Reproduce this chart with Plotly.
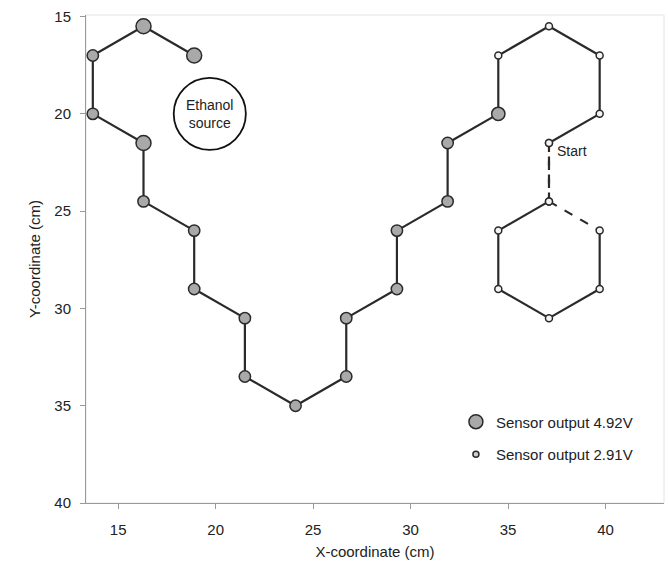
import plotly.graph_objects as go

# Robot trajectory (cm), in visiting order
path_x = [37.1, 37.1, 39.7, 39.7, 37.1, 34.5, 34.5, 37.1, 37.1, 39.7, 39.7, 37.1, 34.5, 34.5,
          31.9, 31.9, 29.3, 29.3, 26.7, 26.7, 24.1, 21.5, 21.5, 18.9, 18.9, 16.3, 16.3, 13.7,
          13.7, 16.3, 18.9]
path_y = [21.5, 24.5, 26.0, 29.0, 30.5, 29.0, 26.0, 24.5, 21.5, 20.0, 17.0, 15.5, 17.0, 20.0,
          21.5, 24.5, 26.0, 29.0, 30.5, 33.5, 35.0, 33.5, 30.5, 29.0, 26.0, 24.5, 21.5, 20.0,
          17.0, 15.5, 17.0]
# Sensor output (V) at each visited point
sensor_v = [2.91, 2.91, 2.91, 2.91, 2.91, 2.91, 2.91, 2.91, 2.91, 2.91, 2.91, 2.91, 2.91, 4.5,
            4.0, 4.0, 4.0, 4.0, 4.0, 4.0, 4.0, 4.0, 4.0, 4.0, 4.0, 4.0, 4.92, 4.0,
            4.0, 4.92, 4.92]
# segment style (from point i to i+1): True = dashed
seg_dashed = [True, True, False, False, False, False, False, True] + [False] * 22

legend_v = [4.92, 2.91]
legend_labels = ["Sensor output 4.92V", "Sensor output 2.91V"]

source_x, source_y, source_r = 19.7, 20.0, 1.85
source_label = "Ethanol<br>source"
start_label = "Start"

x_ticks = [15, 20, 25, 30, 35, 40]
y_ticks = [15, 20, 25, 30, 35, 40]

LINE = "#2a2a2a"
FONT = "Liberation Sans, Arial, sans-serif"


def msize(v):
    return 7 + (v - 2.91) / (4.92 - 2.91) * 8


def mfill(v):
    return "#a9a9a9" if v > 3.2 else "#f4f4f4"


fig = go.Figure()

# draw segments one by one with their style
for i in range(len(path_x) - 1):
    fig.add_trace(go.Scatter(
        x=[path_x[i], path_x[i + 1]], y=[path_y[i], path_y[i + 1]],
        mode="lines", showlegend=False, hoverinfo="skip",
        line=dict(color=LINE, width=2.2, dash="dash" if seg_dashed[i] else "solid"),
    ))

fig.add_trace(go.Scatter(
    x=path_x, y=path_y, mode="markers", showlegend=False,
    marker=dict(size=[msize(v) for v in sensor_v], color=[mfill(v) for v in sensor_v],
                line=dict(color=LINE, width=1.5), opacity=1),
))

for v, lab in zip(legend_v, legend_labels):
    fig.add_trace(go.Scatter(
        x=[None], y=[None], mode="markers", name=lab, legendgroup=lab,
        marker=dict(size=msize(v) - 1, color=mfill(v) if v > 4 else "#cfcfcf",
                    line=dict(color=LINE, width=1.5)),
    ))

fig.add_shape(type="circle", xref="x", yref="y",
              x0=source_x - source_r, x1=source_x + source_r,
              y0=source_y - source_r, y1=source_y + source_r,
              line=dict(color="#111", width=1.8), fillcolor="white", layer="below")
fig.add_annotation(x=source_x, y=source_y, text=source_label, showarrow=False,
                   font=dict(family=FONT, size=14, color="#222"))
fig.add_annotation(x=path_x[0], y=path_y[0], text=start_label, showarrow=False,
                   xanchor="left", yanchor="middle", xshift=6, yshift=-8,
                   font=dict(family=FONT, size=14, color="#222"))

# faint frame
fig.add_shape(type="rect", xref="paper", yref="paper", x0=0, x1=1, y0=0, y1=1,
              line=dict(color="#e4e4e4", width=1), layer="below")

axis_common = dict(showgrid=False, zeroline=False, showline=True, linecolor="#9a9a9a",
                   linewidth=1, ticks="outside", ticklen=5, tickcolor="#9a9a9a",
                   tickfont=dict(family=FONT, size=15, color="#222"))

fig.update_xaxes(range=[13.35, 43.0], tickvals=x_ticks,
                 title=dict(text="X-coordinate (cm)", font=dict(family=FONT, size=15, color="#222"),
                            standoff=9),
                 ticklabelstandoff=8, **axis_common)
fig.update_yaxes(range=[40, 14.92], tickvals=y_ticks,
                 title=dict(text="Y-coordinate (cm)", font=dict(family=FONT, size=15, color="#222"),
                            standoff=10),
                 ticklabelstandoff=6, **axis_common)

fig.update_layout(
    width=668, height=562,
    margin=dict(l=86, r=4, t=15, b=59),
    paper_bgcolor="white", plot_bgcolor="white",
    font=dict(family=FONT, size=15, color="#222"),
    legend=dict(x=0.64, y=0.2, xanchor="left", yanchor="top", tracegroupgap=10,
                font=dict(family=FONT, size=15, color="#222"), bgcolor="rgba(0,0,0,0)",
                itemsizing="trace"),
)

fig.write_html("out.html")
